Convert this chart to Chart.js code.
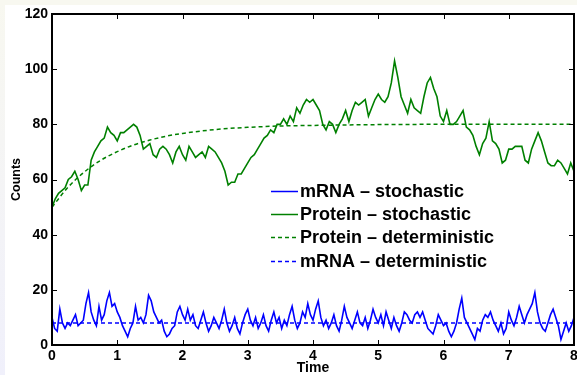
<!DOCTYPE html>
<html><head><meta charset="utf-8">
<script src="https://cdn.jsdelivr.net/npm/chart.js@4/dist/chart.umd.min.js"></script>
<style>html,body{margin:0;padding:0;background:#fff;}canvas{display:block}</style>
</head><body>
<canvas id="c" width="577" height="375"></canvas>
<script>
// ---- data ----
const PROTEIN_DT = 0.05;   // sampling step of the protein trace
const MRNA_DT = 0.04;      // sampling step of the mRNA trace
const proteinStochastic = [
 50,53,55,56,57,60,61,63,60,56,58,58,67,70,72,74,75,79,77,76,
 74,77,77,78,79,80,79,76,71,72,73,69,68,71,72,71,69,66,70,72,
 69,67,72,70,68,69,70,68,72,71,70,68,66,63,58,59,59,62,62,64,
 66,68,69,71,73,75,76,78,77,80,80,82,80,83,81,86,84,87,89,88,
 89,87,85,80,78,81,80,77,80,82,85,81,85,88,87,88,89,83,86,89,
 91,89,88,90,95,103,97,90,87,84,89,86,85,84,90,95,97,93,90,83,
 81,85,80,80,81,83,85,79,78,76,72,69,73,75,81,74,73,71,66,67,
 71,71,72,72,72,67,66,71,74,77,74,70,66,65,65,67,66,64,62,66,
 63];
const mrnaStochastic = [
 10,6,5,13,8,6,8,7,9,11,7,8,9,15,19,12,9,7,14,9,11,16,19,14,15,
 12,10,7,5,3,6,8,14,9,10,8,11,18,16,12,10,8,9,5,3,4,6,7,12,14,
 11,9,13,9,11,7,6,9,12,8,5,7,10,8,6,9,13,8,5,7,10,6,4,8,11,
 13,9,7,10,6,8,11,7,5,9,12,8,10,6,9,7,11,14,9,6,8,12,10,15,11,
 9,13,16,10,7,9,6,8,11,7,5,9,14,10,8,6,9,12,8,7,10,6,9,13,10,
 8,11,7,12,9,6,10,7,5,8,12,11,9,8,11,12,10,12,9,6,5,4,7,11,9,
 7,8,5,3,5,8,13,17,10,8,6,4,2,6,5,9,11,10,12,9,7,5,8,4,6,
 12,9,7,10,14,11,8,11,13,15,19,12,8,6,5,8,11,13,10,7,2,5,8,5,7,
 10];
const detTime = [0,0.25,0.5,0.75,1,1.25,1.5,1.75,2,2.5,3,3.5,4,5,6,7,8];
const proteinDeterministic = [50,57.3,62.8,67,70.1,72.5,74.3,75.7,76.7,78.1,78.9,79.4,79.6,79.9,80,80,80];
const mrnaDetTime = [0, 8];
const mrnaDeterministic = [8, 8];
const xTicks = [0,1,2,3,4,5,6,7,8];
const yTicks = [0,20,40,60,80,100,120];
const seriesLabels = ['mRNA \u2013 stochastic','Protein \u2013 stochastic','Protein \u2013 deterministic','mRNA \u2013 deterministic'];

const BLUE = '#0000ff', GREEN = '#008000';
const FONT = '"Liberation Sans", Arial, Helvetica, sans-serif';
Chart.defaults.font.family = FONT;
Chart.defaults.color = '#000';

const toXY = (t, v) => t.map((x, i) => ({x, y: v[i]}));
const grid = (n, dt) => Array.from({length: n}, (_, i) => +(i * dt).toFixed(4));

const bgPlugin = {
  id: 'bg',
  beforeDraw(chart) {
    const {ctx, width, height} = chart;
    ctx.save();
    ctx.fillStyle = '#f8f8f0'; ctx.fillRect(0, 0, width, 5);
    const g = ctx.createLinearGradient(0, 0, 0, height);
    g.addColorStop(0, '#f8f8f0'); g.addColorStop(1, '#f0f0fb');
    ctx.fillStyle = g; ctx.fillRect(0, 5, 5, height - 5);
    ctx.fillStyle = '#ffffff'; ctx.fillRect(5, 5, width - 5, height - 5);
    ctx.restore();
  }
};

const framePlugin = {
  id: 'frame',
  afterDatasetsDraw(chart) {
    const {ctx, chartArea: {left, top, right, bottom}, scales: {x, y}} = chart;
    ctx.save();
    ctx.strokeStyle = '#000'; ctx.lineWidth = 1;
    ctx.beginPath();
    xTicks.forEach(v => {
      const px = Math.round(x.getPixelForValue(v)) + 0.5;
      ctx.moveTo(px, bottom); ctx.lineTo(px, bottom - 5);
      ctx.moveTo(px, top); ctx.lineTo(px, top + 5);
    });
    yTicks.forEach(v => {
      const py = Math.round(y.getPixelForValue(v)) + 0.5;
      ctx.moveTo(left, py); ctx.lineTo(left + 5, py);
      ctx.moveTo(right, py); ctx.lineTo(right - 5, py);
    });
    ctx.stroke();
    ctx.lineWidth = 2;
    ctx.strokeRect(left, top, right - left, bottom - top);

    // legend (drawn from the datasets' own labels and styles)
    const lx0 = 271, lx1 = 298, tx = 300, ly0 = 191, dy = 23.2;
    ctx.font = 'bold 18px ' + FONT;
    ctx.textBaseline = 'middle';
    chart.data.datasets.forEach((ds, i) => {
      const yy = Math.round(ly0 + i * dy) + 0.5;
      ctx.strokeStyle = ds.borderColor; ctx.lineWidth = 1.5;
      ctx.setLineDash(ds.borderDash || []);
      ctx.beginPath(); ctx.moveTo(lx0, yy); ctx.lineTo(lx1, yy); ctx.stroke();
      ctx.setLineDash([]);
      ctx.fillStyle = '#000';
      ctx.fillText(ds.label, tx, yy + 1);
    });
    ctx.restore();
  }
};

new Chart(document.getElementById('c'), {
  type: 'line',
  data: {
    datasets: [
      {label: seriesLabels[0], data: toXY(grid(mrnaStochastic.length, MRNA_DT), mrnaStochastic),
       borderColor: BLUE, borderWidth: 1.6, pointRadius: 0, fill: false},
      {label: seriesLabels[1], data: toXY(grid(proteinStochastic.length, PROTEIN_DT), proteinStochastic),
       borderColor: GREEN, borderWidth: 1.6, pointRadius: 0, fill: false},
      {label: seriesLabels[2], data: toXY(detTime, proteinDeterministic),
       borderColor: GREEN, borderWidth: 1.5, borderDash: [4, 3], cubicInterpolationMode: 'monotone', pointRadius: 0, fill: false},
      {label: seriesLabels[3], data: toXY(mrnaDetTime, mrnaDeterministic),
       borderColor: BLUE, borderWidth: 1.5, borderDash: [4, 3], pointRadius: 0, fill: false}
    ]
  },
  options: {
    responsive: false, animation: false, devicePixelRatio: 1,
    layout: {padding: {top: 14, right: 3, left: 0, bottom: 0}},
    plugins: {legend: {display: false}, tooltip: {enabled: false}},
    scales: {
      x: {
        type: 'linear', min: 0, max: 8,
        afterBuildTicks: s => { s.ticks = xTicks.map(v => ({value: v})); },
        ticks: {font: {size: 14, weight: 'bold'}, padding: 3, maxRotation: 0, autoSkip: false},
        grid: {display: false, drawTicks: false}, border: {display: false},
        title: {display: true, text: 'Time', font: {size: 14, weight: 'bold'}, padding: {top: 0, bottom: -2}},
        afterFit: s => { s.height = 30; s.paddingLeft = 0; s.paddingRight = 0; }
      },
      y: {
        type: 'linear', min: 0, max: 120,
        afterBuildTicks: s => { s.ticks = yTicks.map(v => ({value: v})); },
        ticks: {font: {size: 14, weight: 'bold'}, padding: 4},
        grid: {display: false, drawTicks: false}, border: {display: false},
        title: {display: true, text: 'Counts', font: {size: 12.5, weight: 'bold'}, padding: {top: 9, bottom: 0}},
        afterFit: s => { s.width = 52; }
      }
    }
  },
  plugins: [bgPlugin, framePlugin]
});
</script>
</body></html>
